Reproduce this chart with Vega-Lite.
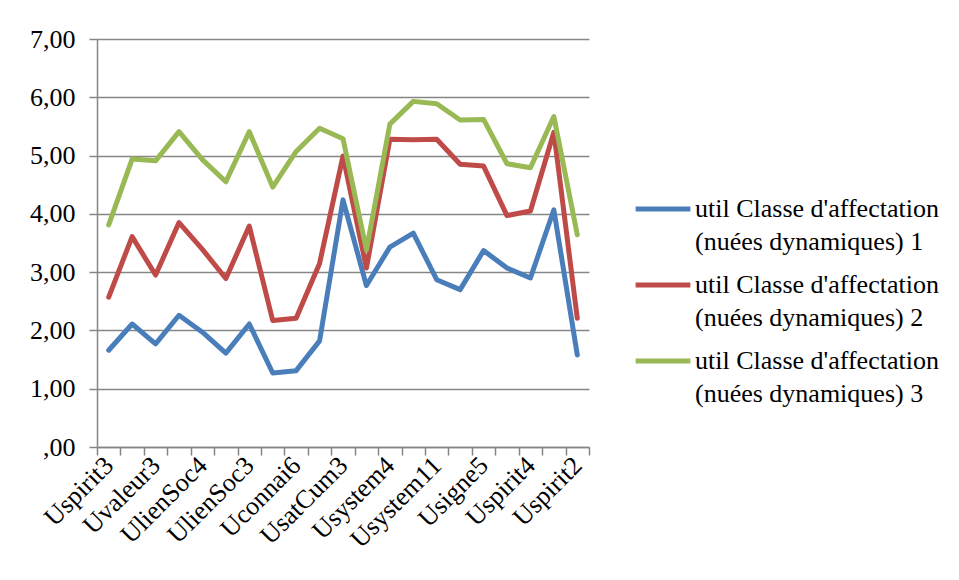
{
  "$schema": "https://vega.github.io/schema/vega-lite/v6.json",
  "width": 492,
  "height": 408,
  "autosize": {"type": "none"},
  "padding": {"left": 97, "top": 39, "right": 370, "bottom": 133},
  "background": "white",
  "config": {
    "font": "Liberation Serif",
    "view": {"stroke": null},
    "style": {"guide-label": {"lineHeight": 33, "font": "Liberation Serif"}},
    "legend": {"labelFont": "Liberation Serif, 'Times New Roman', serif"},
    "axis": {"labelFont": "Liberation Serif", "labelFontSize": 26, "labelColor": "black", "domainColor": "#868686", "tickColor": "#868686", "gridColor": "#868686", "domainWidth": 1.5, "tickWidth": 1.5, "gridWidth": 1.5, "labelOverlap": false}
  },
  "data": {
    "values": [
      {"item": "Uspirit3", "s": "util Classe d'affectation (nuées dynamiques) 1", "v": 1.66},
      {"item": "cat02", "s": "util Classe d'affectation (nuées dynamiques) 1", "v": 2.11},
      {"item": "Uvaleur3", "s": "util Classe d'affectation (nuées dynamiques) 1", "v": 1.77},
      {"item": "cat04", "s": "util Classe d'affectation (nuées dynamiques) 1", "v": 2.26},
      {"item": "UlienSoc4", "s": "util Classe d'affectation (nuées dynamiques) 1", "v": 1.97},
      {"item": "cat06", "s": "util Classe d'affectation (nuées dynamiques) 1", "v": 1.61},
      {"item": "UlienSoc3", "s": "util Classe d'affectation (nuées dynamiques) 1", "v": 2.11},
      {"item": "cat08", "s": "util Classe d'affectation (nuées dynamiques) 1", "v": 1.27},
      {"item": "Uconnai6", "s": "util Classe d'affectation (nuées dynamiques) 1", "v": 1.31},
      {"item": "cat10", "s": "util Classe d'affectation (nuées dynamiques) 1", "v": 1.82},
      {"item": "UsatCum3", "s": "util Classe d'affectation (nuées dynamiques) 1", "v": 4.24},
      {"item": "cat12", "s": "util Classe d'affectation (nuées dynamiques) 1", "v": 2.77},
      {"item": "Usystem4", "s": "util Classe d'affectation (nuées dynamiques) 1", "v": 3.43},
      {"item": "cat14", "s": "util Classe d'affectation (nuées dynamiques) 1", "v": 3.67},
      {"item": "Usystem11", "s": "util Classe d'affectation (nuées dynamiques) 1", "v": 2.87},
      {"item": "cat16", "s": "util Classe d'affectation (nuées dynamiques) 1", "v": 2.70},
      {"item": "Usigne5", "s": "util Classe d'affectation (nuées dynamiques) 1", "v": 3.37},
      {"item": "cat18", "s": "util Classe d'affectation (nuées dynamiques) 1", "v": 3.07},
      {"item": "Uspirit4", "s": "util Classe d'affectation (nuées dynamiques) 1", "v": 2.90},
      {"item": "cat20", "s": "util Classe d'affectation (nuées dynamiques) 1", "v": 4.07},
      {"item": "Uspirit2", "s": "util Classe d'affectation (nuées dynamiques) 1", "v": 1.58},
      {"item": "Uspirit3", "s": "util Classe d'affectation (nuées dynamiques) 2", "v": 2.57},
      {"item": "cat02", "s": "util Classe d'affectation (nuées dynamiques) 2", "v": 3.61},
      {"item": "Uvaleur3", "s": "util Classe d'affectation (nuées dynamiques) 2", "v": 2.95},
      {"item": "cat04", "s": "util Classe d'affectation (nuées dynamiques) 2", "v": 3.85},
      {"item": "UlienSoc4", "s": "util Classe d'affectation (nuées dynamiques) 2", "v": 3.39},
      {"item": "cat06", "s": "util Classe d'affectation (nuées dynamiques) 2", "v": 2.89},
      {"item": "UlienSoc3", "s": "util Classe d'affectation (nuées dynamiques) 2", "v": 3.79},
      {"item": "cat08", "s": "util Classe d'affectation (nuées dynamiques) 2", "v": 2.17},
      {"item": "Uconnai6", "s": "util Classe d'affectation (nuées dynamiques) 2", "v": 2.21},
      {"item": "cat10", "s": "util Classe d'affectation (nuées dynamiques) 2", "v": 3.15},
      {"item": "UsatCum3", "s": "util Classe d'affectation (nuées dynamiques) 2", "v": 4.99},
      {"item": "cat12", "s": "util Classe d'affectation (nuées dynamiques) 2", "v": 3.07},
      {"item": "Usystem4", "s": "util Classe d'affectation (nuées dynamiques) 2", "v": 5.28},
      {"item": "cat14", "s": "util Classe d'affectation (nuées dynamiques) 2", "v": 5.27},
      {"item": "Usystem11", "s": "util Classe d'affectation (nuées dynamiques) 2", "v": 5.28},
      {"item": "cat16", "s": "util Classe d'affectation (nuées dynamiques) 2", "v": 4.85},
      {"item": "Usigne5", "s": "util Classe d'affectation (nuées dynamiques) 2", "v": 4.82},
      {"item": "cat18", "s": "util Classe d'affectation (nuées dynamiques) 2", "v": 3.97},
      {"item": "Uspirit4", "s": "util Classe d'affectation (nuées dynamiques) 2", "v": 4.05},
      {"item": "cat20", "s": "util Classe d'affectation (nuées dynamiques) 2", "v": 5.40},
      {"item": "Uspirit2", "s": "util Classe d'affectation (nuées dynamiques) 2", "v": 2.21},
      {"item": "Uspirit3", "s": "util Classe d'affectation (nuées dynamiques) 3", "v": 3.81},
      {"item": "cat02", "s": "util Classe d'affectation (nuées dynamiques) 3", "v": 4.94},
      {"item": "Uvaleur3", "s": "util Classe d'affectation (nuées dynamiques) 3", "v": 4.91},
      {"item": "cat04", "s": "util Classe d'affectation (nuées dynamiques) 3", "v": 5.41},
      {"item": "UlienSoc4", "s": "util Classe d'affectation (nuées dynamiques) 3", "v": 4.93},
      {"item": "cat06", "s": "util Classe d'affectation (nuées dynamiques) 3", "v": 4.55},
      {"item": "UlienSoc3", "s": "util Classe d'affectation (nuées dynamiques) 3", "v": 5.41},
      {"item": "cat08", "s": "util Classe d'affectation (nuées dynamiques) 3", "v": 4.46},
      {"item": "Uconnai6", "s": "util Classe d'affectation (nuées dynamiques) 3", "v": 5.07},
      {"item": "cat10", "s": "util Classe d'affectation (nuées dynamiques) 3", "v": 5.47},
      {"item": "UsatCum3", "s": "util Classe d'affectation (nuées dynamiques) 3", "v": 5.29},
      {"item": "cat12", "s": "util Classe d'affectation (nuées dynamiques) 3", "v": 3.38},
      {"item": "Usystem4", "s": "util Classe d'affectation (nuées dynamiques) 3", "v": 5.54},
      {"item": "cat14", "s": "util Classe d'affectation (nuées dynamiques) 3", "v": 5.93},
      {"item": "Usystem11", "s": "util Classe d'affectation (nuées dynamiques) 3", "v": 5.89},
      {"item": "cat16", "s": "util Classe d'affectation (nuées dynamiques) 3", "v": 5.61},
      {"item": "Usigne5", "s": "util Classe d'affectation (nuées dynamiques) 3", "v": 5.62},
      {"item": "cat18", "s": "util Classe d'affectation (nuées dynamiques) 3", "v": 4.86},
      {"item": "Uspirit4", "s": "util Classe d'affectation (nuées dynamiques) 3", "v": 4.79},
      {"item": "cat20", "s": "util Classe d'affectation (nuées dynamiques) 3", "v": 5.67},
      {"item": "Uspirit2", "s": "util Classe d'affectation (nuées dynamiques) 3", "v": 3.64}
    ]
  },
  "mark": {"type": "line", "strokeWidth": 5, "strokeJoin": "round", "strokeCap": "round"},
  "encoding": {
    "x": {
      "field": "item", "type": "ordinal", "sort": null,
      "scale": {"type": "band", "paddingInner": 0, "paddingOuter": 0},
      "axis": {
        "title": null,
        "labelExpr": "isString(datum.value) && indexof(datum.value, 'cat') != 0 ? datum.value : ''",
        "tickBand": "extent", "tickSize": 8, "labelAngle": -45, "labelAlign": "right", "labelBaseline": "middle", "labelPadding": 6, "labelDx": 4, "labelDy": 2, "grid": false
      }
    },
    "y": {
      "field": "v", "type": "quantitative",
      "scale": {"domain": [0, 7], "nice": false},
      "axis": {
        "title": null, "values": [0, 1, 2, 3, 4, 5, 6, 7], "tickSize": 8, "labelPadding": 14, "grid": true,
        "labelExpr": "datum.value == 0 ? ',00' : replace(format(datum.value, '.2f'), '.', ',')"
      }
    },
    "color": {
      "field": "s", "type": "nominal",
      "scale": {"range": ["#4A7EBB", "#BE4B48", "#98B954"]},
      "legend": {
        "title": null, "orient": "none", "legendX": 536, "legendY": 140,
        "symbolType": "stroke", "symbolSize": 3000, "symbolStrokeWidth": 5,
        "labelFont": "Liberation Serif, 'Times New Roman', serif", "labelFontSize": 26, "labelColor": "black", "labelLimit": 400,
        "labelOffset": 2, "labelBaseline": "middle", "rowPadding": -1,
        "labelExpr": "[slice(datum.value, 0, 25), slice(datum.value, 26)]"
      }
    }
  }
}
